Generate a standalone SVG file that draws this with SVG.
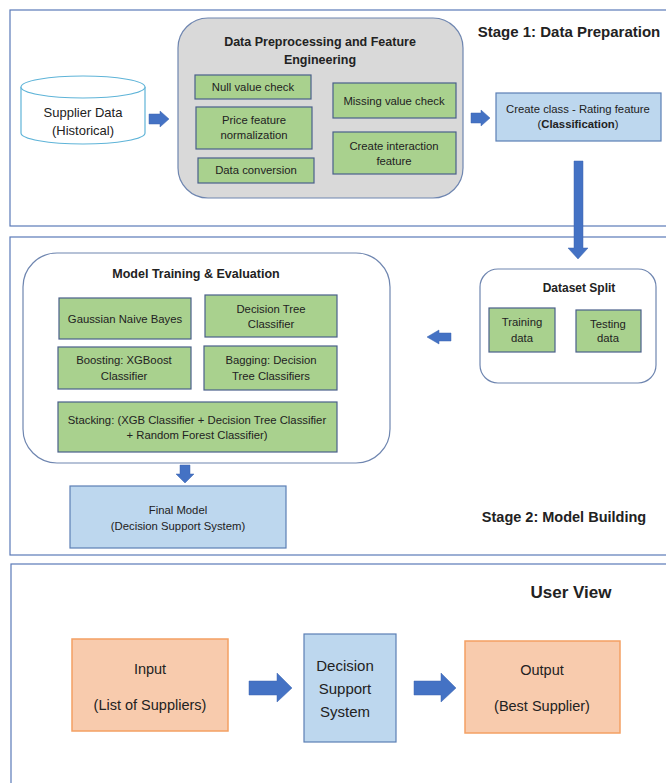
<svg xmlns="http://www.w3.org/2000/svg" width="666" height="783" viewBox="0 0 666 783">
<style>
text{font-family:"Liberation Sans",Arial,sans-serif;fill:#222;text-anchor:middle}
.s{font-size:11.3px}
.b{font-weight:bold}
.frame{fill:none;stroke:#5a7ab8;stroke-width:1.2}
.green{fill:#a9d18e;stroke:#4a5f8a;stroke-width:1.2}
.blue{fill:#bdd7ee;stroke:#5b7fb5;stroke-width:1.2}
.orange{fill:#f8cbad;stroke:#f4a063;stroke-width:1.5}
.arrow{fill:#4472c4;stroke:#3d66b0;stroke-width:0.5}
</style>
<rect width="666" height="783" fill="#fff"/>
<g id="stage1">
<rect class="frame" x="10" y="10" width="670" height="216"/>
<text class="b" x="569" y="37" style="font-size:15px">Stage 1: Data Preparation</text>
</g>
<g id="stage2">
<rect class="frame" x="10" y="237" width="670" height="318"/>
<text class="b" x="564" y="522" style="font-size:14.5px">Stage 2: Model Building</text>
</g>
<g id="userview">
<rect class="frame" x="11" y="564" width="670" height="240"/>
<text class="b" x="571" y="598" style="font-size:17px">User View</text>
</g>
<g id="supplier-data">
<path d="M21,87 L21,133 A62,11 0 0 0 145,133 L145,87" fill="#fff" stroke="#5fb4d8" stroke-width="1.2"/>
<ellipse cx="83" cy="87" rx="62" ry="11" fill="#fff" stroke="#5fb4d8" stroke-width="1.2"/>
<text x="83" y="117" style="font-size:13px">Supplier Data</text>
<text x="83" y="135" style="font-size:13px">(Historical)</text>
</g>
<g id="preprocessing">
<rect x="178" y="18" width="285" height="180" rx="30" fill="#d9d9d9" stroke="#6f86b0" stroke-width="1.2"/>
<text class="b" x="320" y="46" style="font-size:12.5px">Data Preprocessing and Feature</text>
<text class="b" x="320" y="64" style="font-size:12.5px">Engineering</text>
</g>
<g id="null-check">
<rect class="green" x="195" y="75" width="116" height="24"/>
<text class="s" x="253" y="91">Null value check</text>
</g>
<g id="price-norm">
<rect class="green" x="196" y="107" width="116" height="42"/>
<text class="s" x="254" y="124">Price feature</text>
<text class="s" x="254" y="139">normalization</text>
</g>
<g id="data-conversion">
<rect class="green" x="198" y="158" width="116" height="25"/>
<text class="s" x="256" y="174">Data conversion</text>
</g>
<g id="missing-check">
<rect class="green" x="333" y="83" width="123" height="35"/>
<text class="s" x="394" y="105">Missing value check</text>
</g>
<g id="interaction">
<rect class="green" x="333" y="132" width="123" height="42"/>
<text class="s" x="394" y="150">Create interaction</text>
<text class="s" x="394" y="165">feature</text>
</g>
<g id="create-class">
<rect class="blue" x="496" y="93" width="165" height="48"/>
<text class="s" x="578" y="113">Create class - Rating feature</text>
<text class="s" x="578" y="128">(<tspan class="b">Classification</tspan>)</text>
</g>
<g id="dataset-split">
<rect x="480" y="269" width="176" height="114" rx="18" fill="#fff" stroke="#6f86b0" stroke-width="1.2"/>
<text class="b" x="579" y="292" style="font-size:12px">Dataset Split</text>
</g>
<g id="training-data">
<rect class="green" x="489" y="308" width="66" height="44"/>
<text class="s" x="522" y="326">Training</text>
<text class="s" x="522" y="342">data</text>
</g>
<g id="testing-data">
<rect class="green" x="576" y="310" width="65" height="42"/>
<text class="s" x="608" y="328">Testing</text>
<text class="s" x="608" y="342">data</text>
</g>
<g id="model-training">
<rect x="23" y="253" width="367" height="210" rx="34" fill="#fff" stroke="#6f86b0" stroke-width="1.2"/>
<text class="b" x="196" y="278" style="font-size:12.5px">Model Training &amp; Evaluation</text>
</g>
<g id="gnb">
<rect class="green" x="59" y="298" width="132" height="41"/>
<text class="s" x="125" y="323">Gaussian Naive Bayes</text>
</g>
<g id="dtc">
<rect class="green" x="205" y="295" width="132" height="42"/>
<text class="s" x="271" y="313">Decision Tree</text>
<text class="s" x="271" y="328">Classifier</text>
</g>
<g id="xgb">
<rect class="green" x="58" y="347" width="133" height="42"/>
<text class="s" x="124" y="364">Boosting: XGBoost</text>
<text class="s" x="124" y="380">Classifier</text>
</g>
<g id="bagging">
<rect class="green" x="204" y="346" width="133" height="44"/>
<text class="s" x="271" y="364">Bagging: Decision</text>
<text class="s" x="271" y="380">Tree Classifiers</text>
</g>
<g id="stacking">
<rect class="green" x="58" y="402" width="279" height="50"/>
<text class="s" x="197" y="424">Stacking: (XGB Classifier + Decision Tree Classifier</text>
<text class="s" x="197" y="439">+ Random Forest Classifier)</text>
</g>
<g id="final-model">
<rect class="blue" x="70" y="486" width="216" height="62"/>
<text class="s" x="178" y="514">Final Model</text>
<text class="s" x="178" y="530">(Decision Support System)</text>
</g>
<g id="input">
<rect class="orange" x="72" y="639" width="156" height="92"/>
<text x="150" y="674" style="font-size:14.5px">Input</text>
<text x="150" y="710" style="font-size:14.5px">(List of Suppliers)</text>
</g>
<g id="dss">
<rect class="blue" x="304" y="634" width="92" height="108"/>
<text x="345" y="671" style="font-size:15px">Decision</text>
<text x="345" y="694" style="font-size:15px">Support</text>
<text x="345" y="717" style="font-size:15px">System</text>
</g>
<g id="output">
<rect class="orange" x="465" y="641" width="155" height="92"/>
<text x="542" y="675" style="font-size:14.5px">Output</text>
<text x="542" y="711" style="font-size:14.5px">(Best Supplier)</text>
</g>
<g id="connectors">
<path class="arrow" d="M149,114 L160,114 L160,111 L169,119 L160,127 L160,124 L149,124 Z"/>
<path class="arrow" d="M471,113 L481,113 L481,110 L490,118 L481,126 L481,123 L471,123 Z"/>
<path class="arrow" d="M574,161 L583,161 L583,248 L588,248 L578,259 L568,248 L574,248 Z"/>
<path class="arrow" d="M451,333 L439,333 L439,330 L427,337 L439,344 L439,341 L451,341 Z"/>
<path class="arrow" d="M180,465 L190,465 L190,474 L194,474 L185,483 L176,474 L180,474 Z"/>
<path class="arrow" d="M249,681 L277,681 L277,673 L292,688 L277,702 L277,695 L249,695 Z"/>
<path class="arrow" d="M414,681 L441,681 L441,673 L456,688 L441,702 L441,695 L414,695 Z"/>
</g>
</svg>
